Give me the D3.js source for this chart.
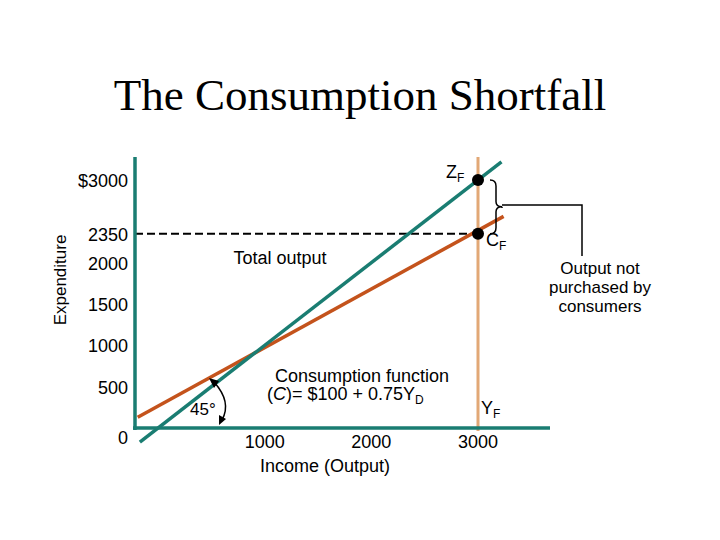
<!DOCTYPE html><html><head><script src="https://cdn.jsdelivr.net/npm/d3@7"></script>
<style>body{margin:0;background:#fff}</style></head><body><svg id="c" width="720" height="540"></svg>
<script>
const yTicks=[0,500,1000,1500,2000,2350,3000];
const xTicks=[1000,2000,3000];
const xTickLabels=["1000","2000","3000"];
const income45=[-170,3220];
const expend45=[-170,3220];
const incomeC=[-190,3240];
const consC=[130,2560];
const YF=3000, CF=2350, ZF=3000;
const svg=d3.select("#c");
const x=d3.scaleLinear().domain([0,3000]).range([158,478]);
const y=d3.scaleLinear().domain([0,3000]).range([428,180]);
const teal="#1a7d72",orange="#c4531c",tan="#e2a876";
const f="Arial, Liberation Sans, sans-serif";
svg.append("text").attr("x",360).attr("y",110).attr("text-anchor","middle").attr("font-family","Liberation Serif, Times New Roman, serif").attr("font-size",45).text("The Consumption Shortfall");
svg.append("line").attr("x1",x(YF)).attr("x2",x(YF)).attr("y1",157).attr("y2",431).attr("stroke",tan).attr("stroke-width",3);
svg.append("line").attr("x1",135).attr("x2",x(YF)).attr("y1",y(CF)).attr("y2",y(CF)).attr("stroke","#000").attr("stroke-width",2).attr("stroke-dasharray","8,4");
const line=d3.line().x(d=>x(d[0])).y(d=>y(d[1]));
svg.append("path").attr("d",line(incomeC.map((v,i)=>[v,consC[i]]))).attr("stroke",orange).attr("stroke-width",3.5).attr("fill","none");
svg.append("path").attr("d",line(income45.map((v,i)=>[v,expend45[i]]))).attr("stroke",teal).attr("stroke-width",3.5).attr("fill","none");
svg.append("line").attr("x1",135).attr("x2",135).attr("y1",157).attr("y2",430).attr("stroke",teal).attr("stroke-width",3.5);
svg.append("line").attr("x1",133).attr("x2",550).attr("y1",428).attr("y2",428).attr("stroke",teal).attr("stroke-width",3.5);
svg.selectAll(".yt").data(yTicks).enter().append("text").attr("x",128).attr("y",d=>d===0?y(d)+16:y(d)+7)
 .attr("text-anchor","end").attr("font-family",f).attr("font-size",18).text(d=>d===3000?"$3000":d);
svg.selectAll(".xt").data(xTicks).enter().append("text").attr("x",d=>x(d)).attr("y",448).attr("text-anchor","middle").attr("font-family",f).attr("font-size",18).text((d,i)=>xTickLabels[i]);
svg.append("text").attr("transform","translate(66,280) rotate(-90)").attr("text-anchor","middle").attr("font-family",f).attr("font-size",17).text("Expenditure");
svg.append("text").attr("x",325).attr("y",472).attr("text-anchor","middle").attr("font-family",f).attr("font-size",18).text("Income (Output)");
svg.append("circle").attr("cx",x(YF)).attr("cy",y(ZF)).attr("r",6).attr("fill","#000");
svg.append("circle").attr("cx",x(YF)).attr("cy",y(CF)).attr("r",6).attr("fill","#000");
svg.append("text").attr("x",446).attr("y",178).attr("font-family",f).attr("font-size",18).html('Z<tspan font-size="12" dy="4">F</tspan>');
svg.append("text").attr("x",486).attr("y",246).attr("font-family",f).attr("font-size",18).html('C<tspan font-size="12" dy="4">F</tspan>');
svg.append("text").attr("x",481).attr("y",414).attr("font-family",f).attr("font-size",18).html('Y<tspan font-size="12" dy="4">F</tspan>');
svg.append("text").attr("x",280).attr("y",264).attr("text-anchor","middle").attr("font-family",f).attr("font-size",18).text("Total output");
svg.append("text").attr("x",362).attr("y",382).attr("text-anchor","middle").attr("font-family",f).attr("font-size",18).text("Consumption function");
svg.append("text").attr("x",267).attr("y",400).attr("font-family",f).attr("font-size",18).html('(<tspan font-style="italic">C</tspan>)= $100 + 0.75Y<tspan font-size="12" dy="4">D</tspan>');
svg.append("text").attr("x",190).attr("y",415).attr("font-family",f).attr("font-size",17).text("45°");
svg.selectAll(".n").data(["Output not","purchased by","consumers"]).enter().append("text").attr("x",600).attr("y",(d,i)=>274+i*19).attr("text-anchor","middle").attr("font-family",f).attr("font-size",17).text(d=>d);
const bx=490,t=y(ZF),b=y(CF),m=(t+b)/2;
svg.append("path").attr("d",`M${bx},${t} q6,0 6,6 L${bx+6},${m-5} q0,5 6,5 q-6,0 -6,5 L${bx+6},${b-6} q0,6 -6,6`).attr("fill","none").attr("stroke","#000").attr("stroke-width",1.5);
svg.append("path").attr("d",`M${bx+12},${m} L${bx+12},${t+28} M${bx+12},205 L582,205 L582,256`).attr("fill","none").attr("stroke","#000").attr("stroke-width",1.5);
svg.append("path").attr("d","M214,382 Q232,402 222,420").attr("fill","none").attr("stroke","#000").attr("stroke-width",1.5);
svg.append("path").attr("d","M209,378 L219,381 L214,388 Z M219,425 L219,415 L226,419 Z").attr("fill","#000");
</script></body></html>
